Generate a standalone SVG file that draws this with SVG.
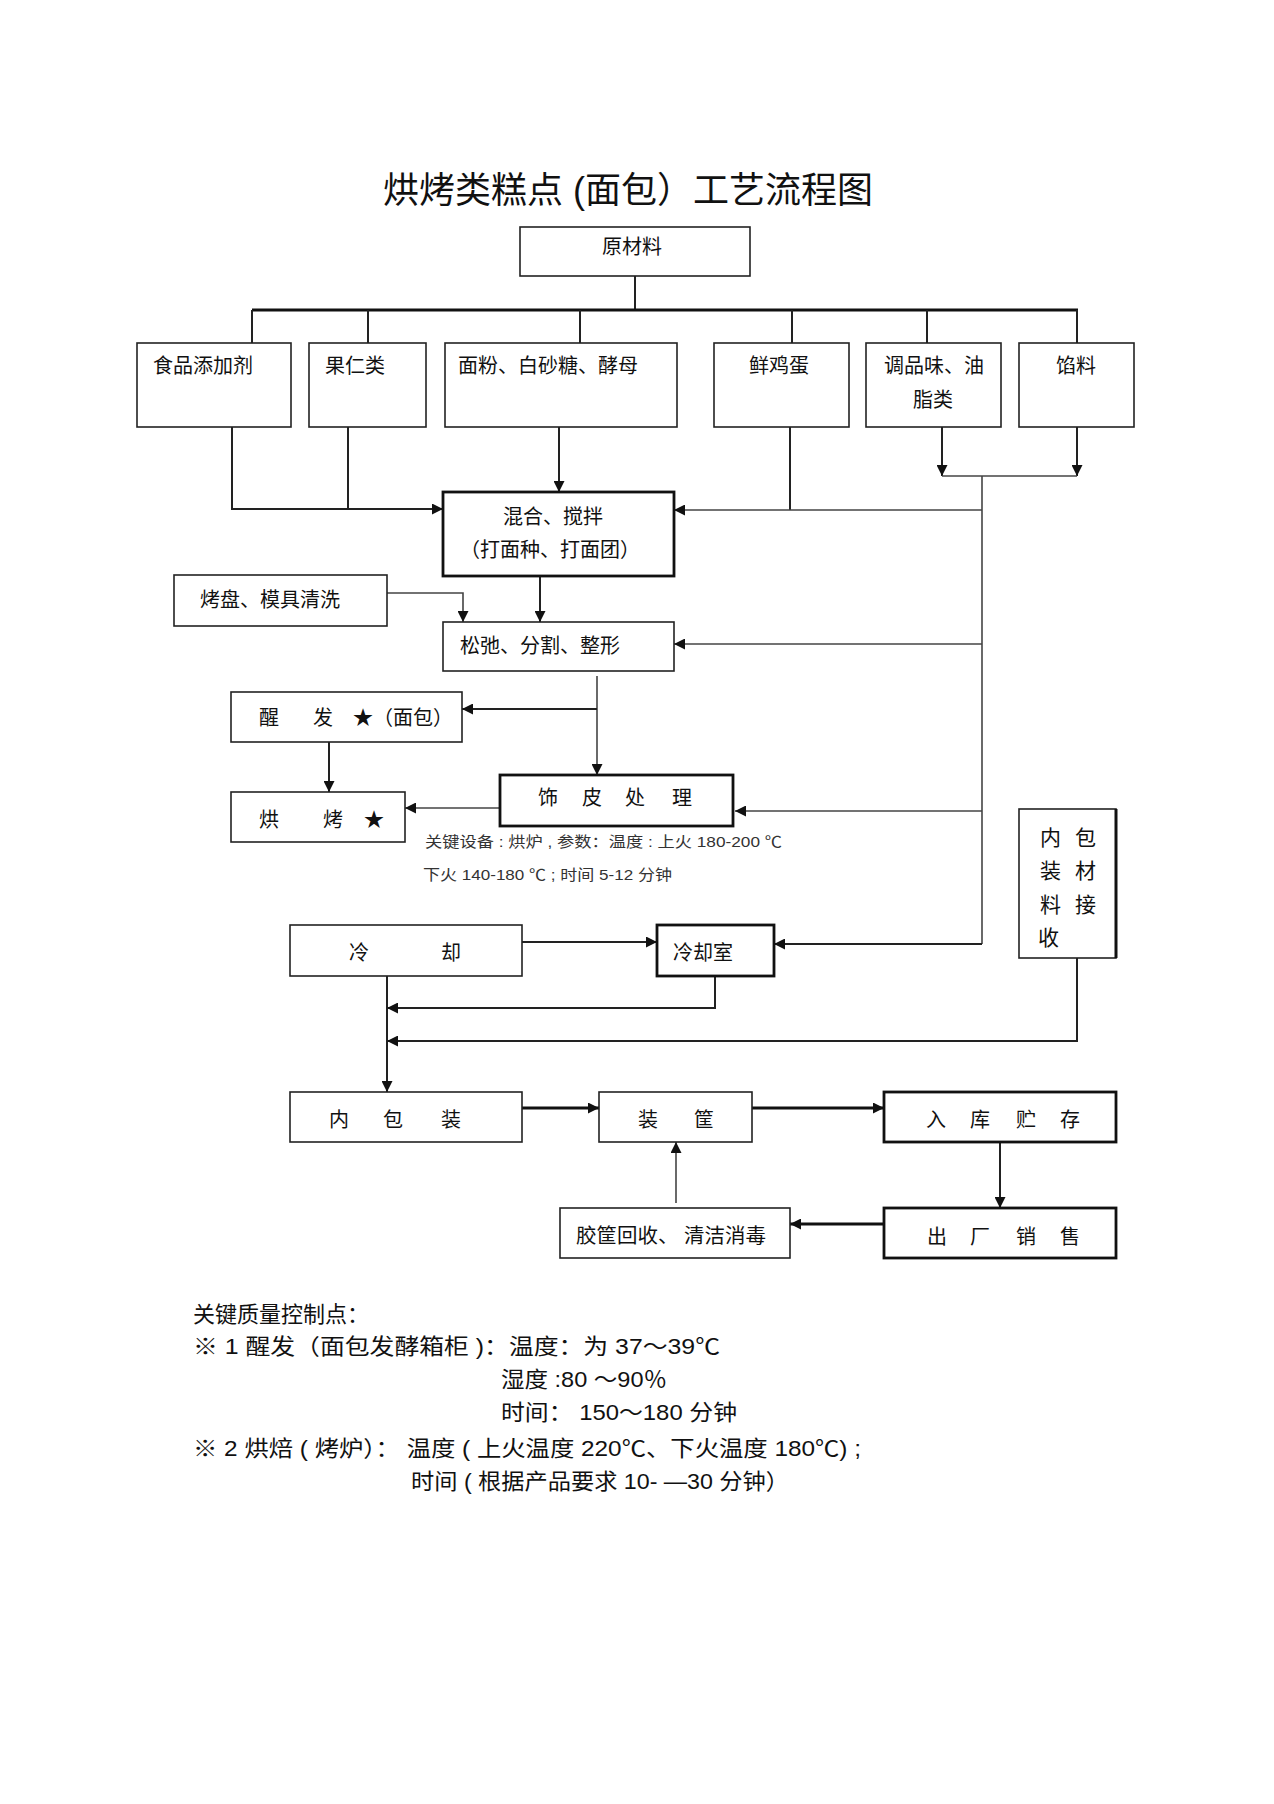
<svg xmlns="http://www.w3.org/2000/svg" width="1274" height="1804" viewBox="0 0 1274 1804">
<style>
text{font-family:"Liberation Sans","Noto Sans CJK SC",sans-serif;fill:#111}
.t{font-size:20px}
.v{font-size:21px}
.box{fill:#fff;stroke:#222;stroke-width:1.6}
.bold{fill:#fff;stroke:#111;stroke-width:2.8}
.c{fill:none;stroke:#222;stroke-width:2}
.cn{fill:none;stroke:#444;stroke-width:1.6}
.ck{fill:none;stroke:#111;stroke-width:3}
.note{font-size:15px;fill:#333}
.foot{font-size:22px}
</style>
<defs>
<marker id="ah" viewBox="0 0 10 10" refX="10" refY="5" markerWidth="11" markerHeight="11" markerUnits="userSpaceOnUse" orient="auto">
<path d="M0,0 L10,5 L0,10 z" fill="#111"/>
</marker>
</defs>
<rect width="1274" height="1804" fill="#fff"/>
<text x="383" y="203" style="font-size:36px" textLength="490" lengthAdjust="spacingAndGlyphs">烘烤类糕点 (面包）工艺流程图</text>

<g id="connectors">
<path class="c" d="M635,276 V310"/>
<path class="ck" d="M252,310 H1078"/>
<path class="c" d="M252,310 V343 M368,310 V343 M580,310 V343 M792,310 V343 M927,310 V343 M1077,310 V343"/>
<path class="c" d="M232,427 V509 H443" marker-end="url(#ah)"/>
<path class="c" d="M348,427 V509"/>
<path class="c" d="M559,427 V492" marker-end="url(#ah)"/>
<path class="c" d="M790,427 V510"/>
<path class="cn" d="M982,510 H674" marker-end="url(#ah)"/>
<path class="c" d="M942,427 V476" marker-end="url(#ah)"/>
<path class="c" d="M1077,427 V476" marker-end="url(#ah)"/>
<path class="cn" d="M942,476 H1077"/>
<path class="cn" d="M982,476 V944"/>
<path class="cn" d="M982,644 H674" marker-end="url(#ah)"/>
<path class="cn" d="M982,811 H735" marker-end="url(#ah)"/>
<path class="c" d="M982,944 H774" marker-end="url(#ah)"/>
<path class="c" d="M540,576 V622" marker-end="url(#ah)"/>
<path class="cn" d="M387,593 H463 V622" marker-end="url(#ah)"/>
<path class="cn" d="M597,676 V775" marker-end="url(#ah)"/>
<path class="c" d="M597,709 H462" marker-end="url(#ah)"/>
<path class="c" d="M329,742 V792" marker-end="url(#ah)"/>
<path class="cn" d="M500,808 H405" marker-end="url(#ah)"/>
<path class="c" d="M522,942 H657" marker-end="url(#ah)"/>
<path class="c" d="M387,976 V1092" marker-end="url(#ah)"/>
<path class="c" d="M715,976 V1008 H387" marker-end="url(#ah)"/>
<path class="c" d="M1077,958 V1041 H387" marker-end="url(#ah)"/>
<path class="ck" d="M522,1108 H599" marker-end="url(#ah)"/>
<path class="ck" d="M752,1108 H884" marker-end="url(#ah)"/>
<path class="c" d="M1000,1142 V1208" marker-end="url(#ah)"/>
<path class="ck" d="M884,1224 H790" marker-end="url(#ah)"/>
<path class="cn" d="M676,1203 V1142" marker-end="url(#ah)"/>
</g>

<g id="n-raw"><rect class="box" x="520" y="227" width="230" height="49"/><text class="t" x="632" y="254" text-anchor="middle">原材料</text></g>
<g id="n-additive"><rect class="box" x="137" y="343" width="154" height="84"/><text class="t" x="153" y="373">食品添加剂</text></g>
<g id="n-nuts"><rect class="box" x="309" y="343" width="117" height="84"/><text class="t" x="325" y="373">果仁类</text></g>
<g id="n-flour"><rect class="box" x="445" y="343" width="232" height="84"/><text class="t" x="458" y="373">面粉、白砂糖、酵母</text></g>
<g id="n-egg"><rect class="box" x="714" y="343" width="135" height="84"/><text class="t" x="749" y="373">鲜鸡蛋</text></g>
<g id="n-season"><rect class="box" x="866" y="343" width="135" height="84"/><text class="t" x="884" y="373">调品味、油</text><text class="t" x="913" y="407">脂类</text></g>
<g id="n-filling"><rect class="box" x="1019" y="343" width="115" height="84"/><text class="t" x="1056" y="373">馅料</text></g>
<g id="n-mix"><rect class="bold" x="443" y="492" width="231" height="84"/><text class="t" x="503" y="524">混合、搅拌</text><text class="t" x="550" y="557" text-anchor="middle">（打面种、打面团）</text></g>
<g id="n-wash"><rect class="box" x="174" y="575" width="213" height="51"/><text class="t" x="200" y="607">烤盘、模具清洗</text></g>
<g id="n-shape"><rect class="box" x="443" y="622" width="231" height="49"/><text class="t" x="460" y="653">松弛、分割、整形</text></g>
<g id="n-proof"><rect class="box" x="231" y="692" width="231" height="50"/><text class="t" x="259" y="725">醒</text><text class="t" x="313" y="725">发</text><text class="t" x="353" y="725">★（面包）</text></g>
<g id="n-bake"><rect class="box" x="231" y="792" width="174" height="50"/><text class="t" x="259" y="827">烘</text><text class="t" x="323" y="827">烤</text><text class="t" x="364" y="827">★</text></g>
<g id="n-decor"><rect class="bold" x="500" y="775" width="233" height="51"/><text class="t" x="538" y="805">饰</text><text class="t" x="582" y="805">皮</text><text class="t" x="625" y="805">处</text><text class="t" x="672" y="805">理</text></g>
<g id="n-note"><text class="note" x="425" y="847" textLength="357" lengthAdjust="spacingAndGlyphs">关键设备 : 烘炉 , 参数：温度 : 上火 180-200 ℃</text><text class="note" x="423" y="880" textLength="249" lengthAdjust="spacingAndGlyphs">下火 140-180 ℃ ; 时间 5-12 分钟</text></g>
<g id="n-packmat"><rect class="box" x="1019" y="809" width="97" height="149"/><path d="M1116,809 V958" stroke="#111" stroke-width="3"/><text class="v" x="1040" y="845">内</text><text class="v" x="1075" y="845">包</text><text class="v" x="1040" y="878">装</text><text class="v" x="1075" y="878">材</text><text class="v" x="1040" y="912">料</text><text class="v" x="1075" y="912">接</text><text class="v" x="1038" y="945">收</text></g>
<g id="n-cool"><rect class="box" x="290" y="925" width="232" height="51"/><text class="t" x="349" y="960">冷</text><text class="t" x="441" y="960">却</text></g>
<g id="n-coolroom"><rect class="bold" x="657" y="925" width="117" height="51"/><text class="t" x="673" y="960">冷却室</text></g>
<g id="n-innerpack"><rect class="box" x="290" y="1092" width="232" height="50"/><text class="t" x="329" y="1127">内</text><text class="t" x="383" y="1127">包</text><text class="t" x="441" y="1127">装</text></g>
<g id="n-basket"><rect class="box" x="599" y="1092" width="153" height="50"/><text class="t" x="638" y="1127">装</text><text class="t" x="694" y="1127">筐</text></g>
<g id="n-store"><rect class="bold" x="884" y="1092" width="232" height="50"/><text class="t" x="926" y="1127">入</text><text class="t" x="970" y="1127">库</text><text class="t" x="1016" y="1127">贮</text><text class="t" x="1060" y="1127">存</text></g>
<g id="n-sale"><rect class="bold" x="884" y="1208" width="232" height="50"/><text class="t" x="927" y="1244">出</text><text class="t" x="970" y="1244">厂</text><text class="t" x="1016" y="1244">销</text><text class="t" x="1060" y="1244">售</text></g>
<g id="n-recycle"><rect class="box" x="560" y="1208" width="230" height="50"/><text class="t" x="576" y="1243" textLength="190" lengthAdjust="spacingAndGlyphs">胶筐回收、 清洁消毒</text></g>

<g id="footnotes">
<text class="foot" x="193" y="1322">关键质量控制点：</text>
<text class="foot" x="193" y="1354" textLength="527" lengthAdjust="spacingAndGlyphs">※  1 醒发（面包发酵箱柜  )：温度：为 37～39℃</text>
<text class="foot" x="501" y="1387" textLength="166" lengthAdjust="spacingAndGlyphs">湿度 :80 ～90％</text>
<text class="foot" x="501" y="1420" textLength="236" lengthAdjust="spacingAndGlyphs">时间：  150～180 分钟</text>
<text class="foot" x="193" y="1456" textLength="668" lengthAdjust="spacingAndGlyphs">※ 2 烘焙 ( 烤炉）： 温度 ( 上火温度 220℃、下火温度 180℃) ;</text>
<text class="foot" x="411" y="1489" textLength="378" lengthAdjust="spacingAndGlyphs">时间 ( 根据产品要求 10- —30 分钟）</text>
</g>
</svg>
